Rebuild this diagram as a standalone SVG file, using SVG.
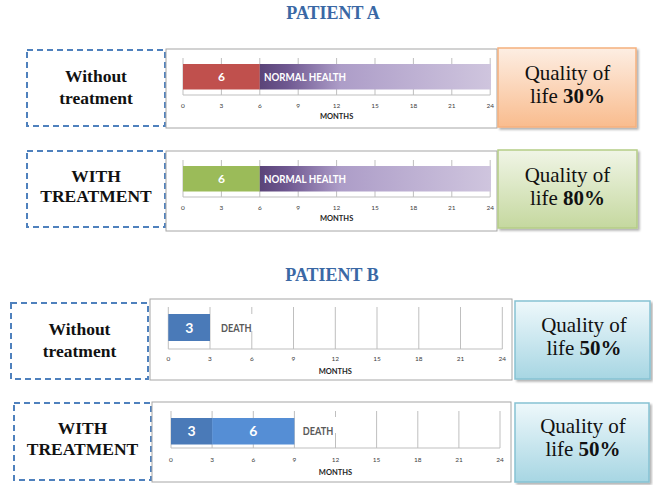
<svg xmlns="http://www.w3.org/2000/svg" width="653" height="485" viewBox="0 0 653 485">
<defs>
<style>
.title{font-family:"Liberation Serif","Times New Roman",serif;font-weight:bold;font-size:18px;fill:#3a68a5;text-anchor:middle}
.lbl{font-family:"Liberation Serif","Times New Roman",serif;font-weight:bold;font-size:17.5px;fill:#111;text-anchor:middle}
.q{font-family:"Liberation Serif","Times New Roman",serif;font-size:21px;fill:#111;text-anchor:middle}
.dash{fill:#fff;stroke:#4f81bd;stroke-width:2;stroke-dasharray:6 4}
.chart{fill:#fff;stroke:#a6a6a6;stroke-width:1}
.grid{stroke:#bfbfbf;stroke-width:1;fill:none}
.tick{font-family:Lato,"Liberation Sans",sans-serif;font-size:6.5px;fill:#404040;text-anchor:middle}
.months{font-family:Lato,"Liberation Sans",sans-serif;font-size:7.5px;font-weight:bold;fill:#262626;text-anchor:middle}
.bar{font-family:Lato,"Liberation Sans",sans-serif;font-weight:bold;fill:#fff;text-anchor:middle}
.nh{font-family:Lato,"Liberation Sans",sans-serif;font-weight:bold;font-size:10.5px;fill:#fff;text-anchor:start}
.death{font-family:Lato,"Liberation Sans",sans-serif;font-weight:bold;font-size:12px;fill:#595959;text-anchor:start}
</style>
<linearGradient id="purple" x1="0" y1="0" x2="1" y2="0">
<stop offset="0" stop-color="#5a4478"/>
<stop offset="0.12" stop-color="#6f5891"/>
<stop offset="0.35" stop-color="#ad9dc8"/>
<stop offset="1" stop-color="#cfc5de"/>
</linearGradient>
<linearGradient id="orange" x1="0" y1="0" x2="0" y2="1">
<stop offset="0" stop-color="#fdeee3"/>
<stop offset="1" stop-color="#f9bc8e"/>
</linearGradient>
<linearGradient id="green" x1="0" y1="0" x2="0" y2="1">
<stop offset="0" stop-color="#f0f5e6"/>
<stop offset="1" stop-color="#c5d89f"/>
</linearGradient>
<linearGradient id="blue" x1="0" y1="0" x2="0" y2="1">
<stop offset="0" stop-color="#eef8fb"/>
<stop offset="1" stop-color="#a7d6e3"/>
</linearGradient>
<filter id="sh" x="-10%" y="-10%" width="125%" height="130%">
<feDropShadow dx="2" dy="2" stdDeviation="1.2" flood-color="#000" flood-opacity="0.3"/>
</filter>
</defs>
<rect width="653" height="485" fill="#fff"/>

<text class="title" x="333" y="19">PATIENT A</text>
<text class="title" x="332" y="281">PATIENT B</text>

<!-- Patient A, without treatment -->
<g id="a1-label">
<rect class="dash" x="27" y="50" width="138" height="76"/>
<text class="lbl" x="96" y="82">Without</text>
<text class="lbl" x="96" y="104">treatment</text>
</g>
<g id="a1-chart">
<rect class="chart" x="166" y="49" width="331" height="79"/>
<path class="grid" d="M183 58V95M221.4 58V95M259.8 58V95M298.2 58V95M336.6 58V95M375 58V95M413.4 58V95M451.8 58V95M490.2 58V95M183 95H490.2"/>
<rect x="183" y="64" width="76.8" height="25.5" fill="#c0504d"/>
<rect x="259.8" y="64" width="231.2" height="25.5" fill="url(#purple)"/>
<text class="bar" x="221.4" y="81" font-size="12">6</text>
<text class="nh" x="264" y="80.5" textLength="82" lengthAdjust="spacingAndGlyphs">NORMAL HEALTH</text>
<g class="tick"><text x="183" y="108">0</text><text x="221.4" y="108">3</text><text x="259.8" y="108">6</text><text x="298.2" y="108">9</text><text x="336.6" y="108">12</text><text x="375" y="108">15</text><text x="413.4" y="108">18</text><text x="451.8" y="108">21</text><text x="490.2" y="108">24</text></g>
<text class="months" x="336.6" y="119">MONTHS</text>
</g>
<g id="a1-quality">
<rect x="498" y="48" width="138" height="79" fill="url(#orange)" stroke="#f5b07e" stroke-width="1.5" filter="url(#sh)"/>
<text class="q" x="567.5" y="80">Quality of</text>
<text class="q" x="567.5" y="103">life <tspan font-weight="bold">30%</tspan></text>
</g>

<!-- Patient A, with treatment -->
<g id="a2-label">
<rect class="dash" x="27" y="151" width="138" height="76"/>
<text class="lbl" x="96" y="182">WITH</text>
<text class="lbl" x="96" y="202">TREATMENT</text>
</g>
<g id="a2-chart">
<rect class="chart" x="166" y="151" width="331" height="80"/>
<path class="grid" d="M183 160V197M221.4 160V197M259.8 160V197M298.2 160V197M336.6 160V197M375 160V197M413.4 160V197M451.8 160V197M490.2 160V197M183 197H490.2"/>
<rect x="183" y="166" width="76.8" height="25.5" fill="#9bbb59"/>
<rect x="259.8" y="166" width="231.2" height="25.5" fill="url(#purple)"/>
<text class="bar" x="221.4" y="183" font-size="12">6</text>
<text class="nh" x="264" y="182.5" textLength="82" lengthAdjust="spacingAndGlyphs">NORMAL HEALTH</text>
<g class="tick"><text x="183" y="210">0</text><text x="221.4" y="210">3</text><text x="259.8" y="210">6</text><text x="298.2" y="210">9</text><text x="336.6" y="210">12</text><text x="375" y="210">15</text><text x="413.4" y="210">18</text><text x="451.8" y="210">21</text><text x="490.2" y="210">24</text></g>
<text class="months" x="336.6" y="221">MONTHS</text>
</g>
<g id="a2-quality">
<rect x="498" y="150" width="139" height="78" fill="url(#green)" stroke="#b5cd87" stroke-width="1.5" filter="url(#sh)"/>
<text class="q" x="567.5" y="182">Quality of</text>
<text class="q" x="567.5" y="205">life <tspan font-weight="bold">80%</tspan></text>
</g>

<!-- Patient B, without treatment -->
<g id="b1-label">
<rect class="dash" x="11" y="303" width="137" height="76"/>
<text class="lbl" x="79.5" y="335">Without</text>
<text class="lbl" x="79.5" y="357">treatment</text>
</g>
<g id="b1-chart">
<rect class="chart" x="150" y="299" width="362" height="81"/>
<path class="grid" d="M168.3 307V349M210 307V349M251.8 307V349M293.5 307V349M335.3 307V349M377 307V349M418.8 307V349M460.5 307V349M502.3 307V349M168.3 349H502.3"/>
<rect x="168.3" y="314" width="41.7" height="27" fill="#4a7ab8"/>
<text class="bar" x="189.2" y="332.5" font-size="14">3</text>
<rect x="219" y="314" width="34" height="17" fill="#fff"/>
<text class="death" x="221" y="332" textLength="30.5" lengthAdjust="spacingAndGlyphs">DEATH</text>
<g class="tick"><text x="168.3" y="360.5">0</text><text x="210" y="360.5">3</text><text x="251.8" y="360.5">6</text><text x="293.5" y="360.5">9</text><text x="335.3" y="360.5">12</text><text x="377" y="360.5">15</text><text x="418.8" y="360.5">18</text><text x="460.5" y="360.5">21</text><text x="502.3" y="360.5">24</text></g>
<text class="months" x="335.3" y="374">MONTHS</text>
</g>
<g id="b1-quality">
<rect x="515" y="301" width="135" height="78" fill="url(#blue)" stroke="#86c2d3" stroke-width="1.5" filter="url(#sh)"/>
<text class="q" x="584" y="332">Quality of</text>
<text class="q" x="584" y="355">life <tspan font-weight="bold">50%</tspan></text>
</g>

<!-- Patient B, with treatment -->
<g id="b2-label">
<rect class="dash" x="14" y="403" width="137" height="77"/>
<text class="lbl" x="82.5" y="434">WITH</text>
<text class="lbl" x="82.5" y="455">TREATMENT</text>
</g>
<g id="b2-chart">
<rect class="chart" x="152" y="402" width="359" height="80"/>
<path class="grid" d="M171 411V448M212.1 411V448M253.3 411V448M294.4 411V448M335.5 411V448M376.6 411V448M417.8 411V448M458.9 411V448M500 411V448M171 448H500"/>
<rect x="171" y="418" width="41.1" height="26.5" fill="#4a7ab8"/>
<rect x="212.1" y="418" width="82.3" height="26.5" fill="#558ed5"/>
<text class="bar" x="191.5" y="436" font-size="14">3</text>
<text class="bar" x="253.3" y="436" font-size="14">6</text>
<rect x="300" y="417" width="37.5" height="16" fill="#fff"/>
<text class="death" x="302.7" y="435" textLength="30.5" lengthAdjust="spacingAndGlyphs">DEATH</text>
<g class="tick"><text x="171" y="461.5">0</text><text x="212.1" y="461.5">3</text><text x="253.3" y="461.5">6</text><text x="294.4" y="461.5">9</text><text x="335.5" y="461.5">12</text><text x="376.6" y="461.5">15</text><text x="417.8" y="461.5">18</text><text x="458.9" y="461.5">21</text><text x="500" y="461.5">24</text></g>
<text class="months" x="335.5" y="475">MONTHS</text>
</g>
<g id="b2-quality">
<rect x="515" y="403" width="134" height="79" fill="url(#blue)" stroke="#86c2d3" stroke-width="1.5" filter="url(#sh)"/>
<text class="q" x="583" y="433">Quality of</text>
<text class="q" x="583" y="456">life <tspan font-weight="bold">50%</tspan></text>
</g>

<g id="connectors"/>
</svg>
